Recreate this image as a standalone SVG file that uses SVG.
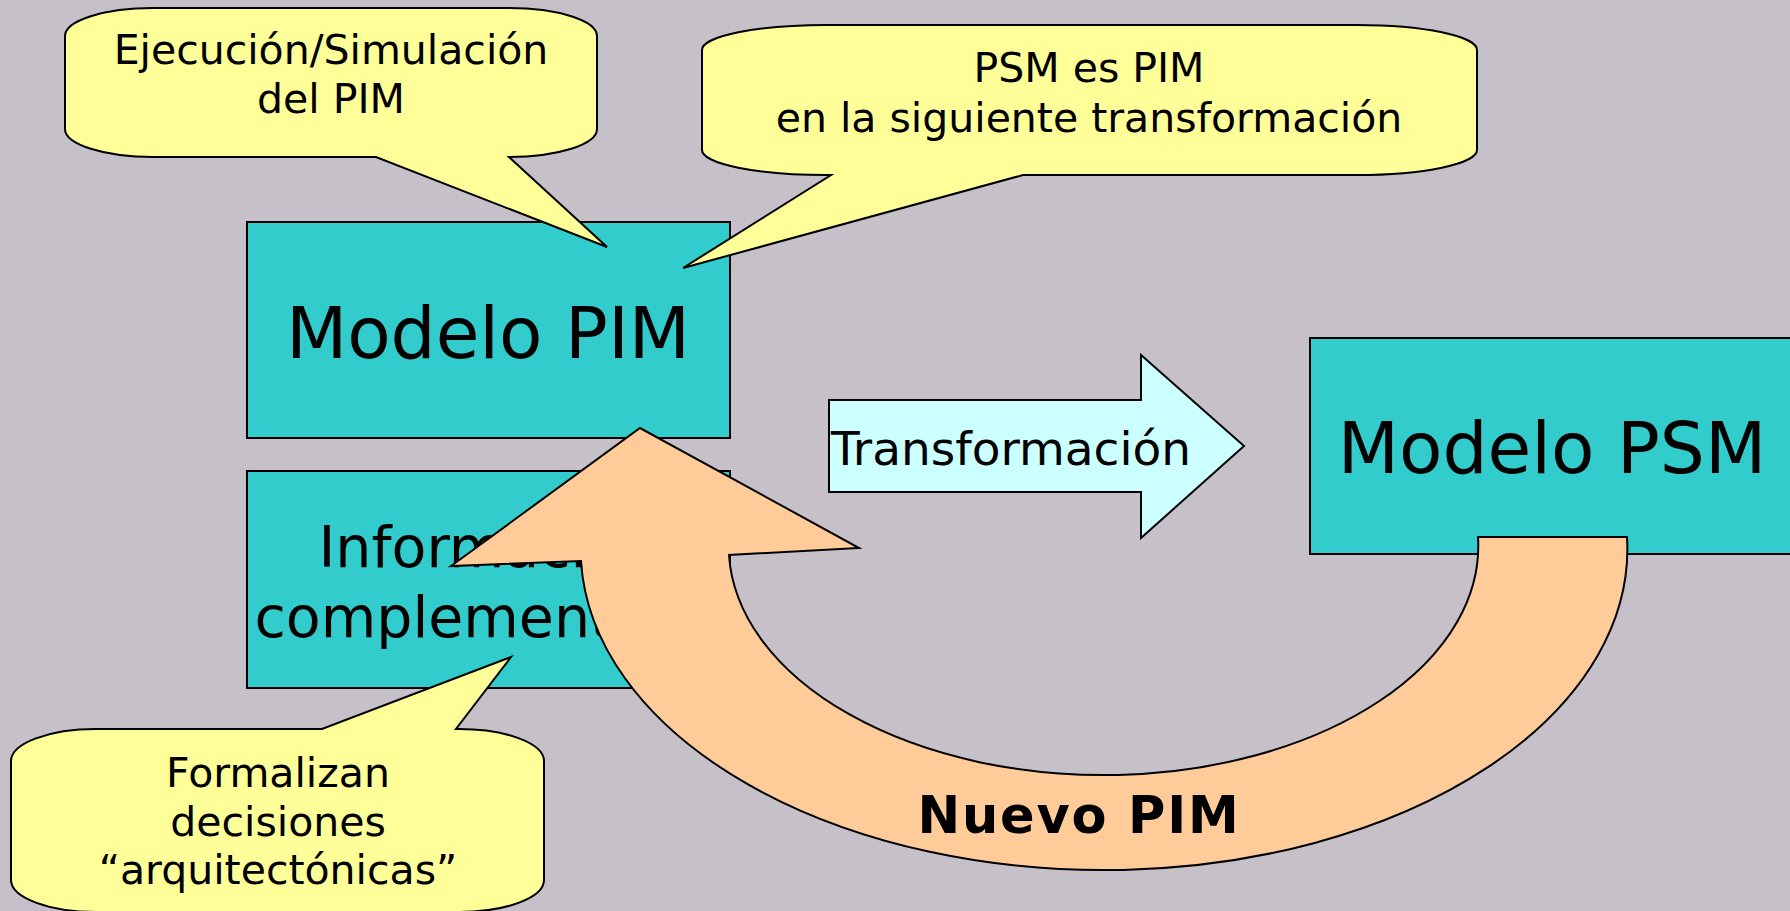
<svg xmlns="http://www.w3.org/2000/svg" width="1790" height="911" viewBox="0 0 1790 911">
<style>
.box{fill:#33CCCC;stroke:#000;stroke-width:2}
.call{fill:#FFFF99;stroke:#000;stroke-width:2;stroke-linejoin:miter}
.t{font-family:"DejaVu Sans",Verdana,sans-serif;fill:#000}
.big{font-size:71px;text-anchor:middle}
.mid{font-size:57px;text-anchor:middle}
.small{font-size:41px;text-anchor:middle}
</style>
<rect width="1790" height="911" fill="#C6C1C8"/>
<g id="informacion">
<rect class="box" x="247" y="471" width="483" height="217"/>
<text class="t mid" x="488" y="567">Información</text>
<text class="t mid" x="488" y="637">complementaria</text>
</g>
<g id="modelo-pim">
<rect class="box" x="247" y="222" width="483" height="216"/>
<text class="t big" x="488" y="358">Modelo PIM</text>
</g>
<g id="modelo-psm">
<rect class="box" x="1310" y="338" width="490" height="216"/>
<text class="t big" x="1552" y="473">Modelo PSM</text>
</g>
<g id="connectors">
<g id="transformacion">
<path d="M829 400 H1141 V355 L1244 446 L1141 538 V492 H829 Z" fill="#CCFFFF" stroke="#000" stroke-width="2"/>
<text class="t" x="831" y="465" font-size="47">Transformación</text>
</g>
<g id="nuevo-pim">
<path d="M1478 537 H1627 A523 321 0 0 1 581 561 L451 566 L640 428 L859 548 L729 555 A374.5 229 0 0 0 1478 537 Z" fill="#FFCC99" stroke="#000" stroke-width="2"/>
<text class="t" x="1079" y="833" font-size="51" font-weight="bold" text-anchor="middle" letter-spacing="1.8">Nuevo PIM</text>
</g>
</g>
<g id="callout-ejecucion">
<path class="call" d="M153 8 H509 A88 28 0 0 1 597 36 V129 A88 28 0 0 1 509 157 L607 247 L376 157 H153 A88 28 0 0 1 65 129 V36 A88 28 0 0 1 153 8 Z"/>
<text class="t small" x="331" y="64">Ejecución/Simulación</text>
<text class="t small" x="331" y="113">del PIM</text>
</g>
<g id="callout-psm">
<path class="call" d="M826 25 H1357 A120 25 0 0 1 1477 50 V150 A120 25 0 0 1 1357 175 H1023 L683 268 L831 175 H826 A124 25 0 0 1 702 150 V50 A124 25 0 0 1 826 25 Z"/>
<text class="t small" x="1089" y="82">PSM es PIM</text>
<text class="t small" x="1089" y="132">en la siguiente transformación</text>
</g>
<g id="callout-formalizan">
<path class="call" d="M96 729 H322 L511 657 L456 729 H459 A85 32 0 0 1 544 761 V880 A85 32 0 0 1 459 912 H96 A85 32 0 0 1 11 880 V761 A85 32 0 0 1 96 729 Z"/>
<text class="t small" x="278" y="787">Formalizan</text>
<text class="t small" x="278" y="836">decisiones</text>
<text class="t small" x="278" y="884">“arquitectónicas”</text>
</g>
</svg>
